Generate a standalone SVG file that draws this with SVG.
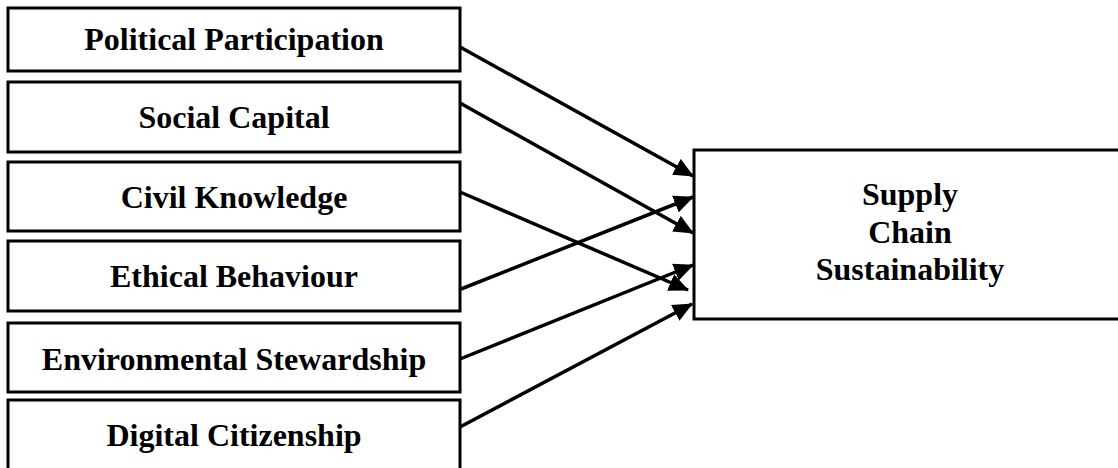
<svg xmlns="http://www.w3.org/2000/svg" width="1118" height="468" viewBox="0 0 1118 468">
  <style>
    .box { fill: #ffffff; stroke: #000000; stroke-width: 3; }
    .lbl { font-family: "Liberation Serif", "Times New Roman", serif; font-weight: bold; font-size: 32px; fill: #000000; text-anchor: middle; }
    .conn { stroke: #000000; stroke-width: 3.5; fill: none; marker-end: url(#arrow); }
  </style>
  <defs>
    <marker id="arrow" markerUnits="userSpaceOnUse" markerWidth="20" markerHeight="18" viewBox="0 0 20 18" refX="19" refY="9" orient="auto">
      <path d="M0,0 L20,9 L0,18 Z" fill="#000000"/>
    </marker>
  </defs>
  <rect width="1118" height="468" fill="#ffffff"/>

  <g id="node-political">
    <rect class="box" x="8" y="8" width="452" height="63"/>
    <text class="lbl" x="234" y="50">Political Participation</text>
  </g>
  <g id="node-social">
    <rect class="box" x="8" y="82" width="452" height="70"/>
    <text class="lbl" x="234" y="128">Social Capital</text>
  </g>
  <g id="node-civil">
    <rect class="box" x="8" y="162" width="452" height="69"/>
    <text class="lbl" x="234" y="208">Civil Knowledge</text>
  </g>
  <g id="node-ethical">
    <rect class="box" x="8" y="241" width="452" height="70"/>
    <text class="lbl" x="234" y="287">Ethical Behaviour</text>
  </g>
  <g id="node-environmental">
    <rect class="box" x="8" y="323" width="452" height="69"/>
    <text class="lbl" x="234" y="370">Environmental Stewardship</text>
  </g>
  <g id="node-digital">
    <rect class="box" x="8" y="400" width="452" height="80"/>
    <text class="lbl" x="234" y="446">Digital Citizenship</text>
  </g>
  <g id="node-scs">
    <rect class="box" x="694" y="150" width="440" height="169"/>
    <text class="lbl" x="910" y="205">Supply</text>
    <text class="lbl" x="910" y="243">Chain</text>
    <text class="lbl" x="910" y="280">Sustainability</text>
  </g>

  <g id="connectors">
    <line class="conn" x1="460" y1="47" x2="693" y2="176"/>
    <line class="conn" x1="460" y1="103" x2="693" y2="233"/>
    <line class="conn" x1="460" y1="192" x2="688" y2="290"/>
    <line class="conn" x1="461" y1="289" x2="693" y2="197"/>
    <line class="conn" x1="460" y1="359" x2="693" y2="265"/>
    <line class="conn" x1="460" y1="427" x2="692" y2="304"/>
  </g>
</svg>
